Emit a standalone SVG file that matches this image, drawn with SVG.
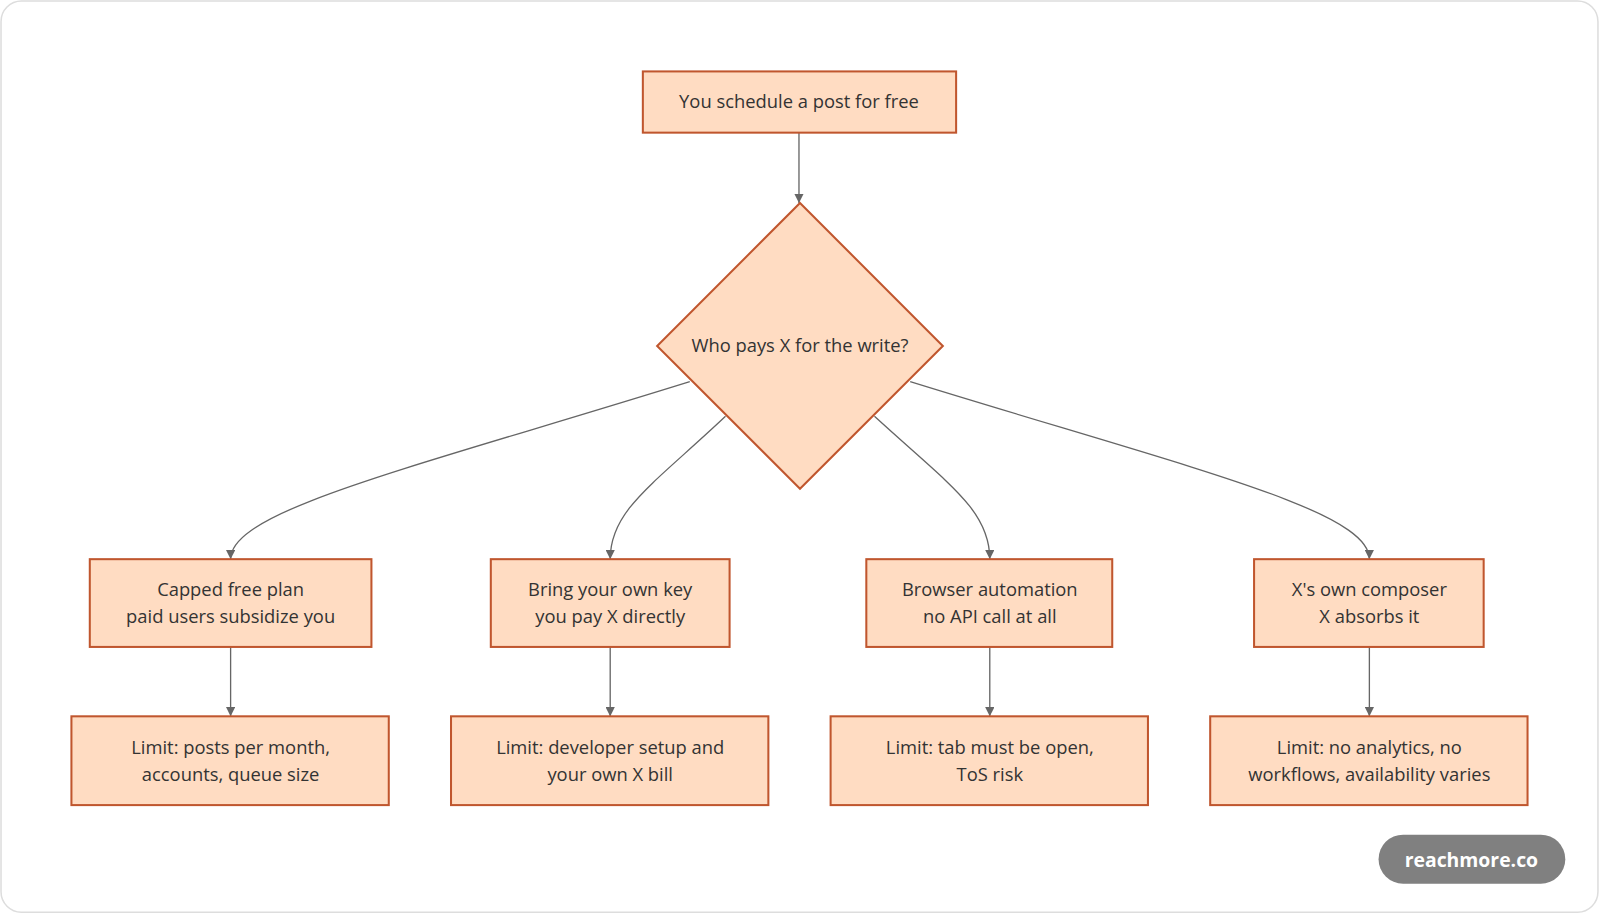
<svg xmlns="http://www.w3.org/2000/svg" width="1600" height="914" viewBox="0 0 1600 914">
<defs>
<marker id="ah" viewBox="0 0 10 10" refX="10" refY="5" markerWidth="7" markerHeight="7" orient="auto"><path d="M0,0 L10,5 L0,10 z" fill="#666"/></marker>
<style>
.n{fill:#ffdcc2;stroke:#c0562e;stroke-width:2}
.t{font-family:"Open Sans","Noto Sans",sans-serif;font-size:18px;fill:#333;text-anchor:middle}
.c{fill:none;stroke:#666;stroke-width:1.3;marker-end:url(#ah)}
</style>
</defs>
<rect width="1600" height="914" fill="#fff"/>
<g transform="scale(1.0204)">
<rect x="1" y="1" width="1565" height="893" rx="20" fill="#fff" stroke="#ddd" stroke-width="1.5"/>
<g id="connectors">
<path class="c" d="M783,130 L783,199"/>
<path class="c" d="M676,374 C400,460 226,500 226,548"/>
<path class="c" d="M711,408 C640,475 598,500 598,548"/>
<path class="c" d="M857,408 C930,475 970,500 970,548"/>
<path class="c" d="M892,374 C1170,460 1342,500 1342,548"/>
<path class="c" d="M226,634 L226,702"/>
<path class="c" d="M598,634 L598,702"/>
<path class="c" d="M970,634 L970,702"/>
<path class="c" d="M1342,634 L1342,702"/>
</g>
<g id="start"><rect class="n" x="630" y="70" width="307" height="60"/><text class="t" x="783" y="106">You schedule a post for free</text></g>
<g id="decision"><polygon class="n" points="784,199 924,339 784,479 644,339"/><text class="t" x="784" y="345">Who pays X for the write?</text></g>
<g id="a1"><rect class="n" x="88" y="548" width="276" height="86"/><text class="t" x="226" y="584">Capped free plan</text><text class="t" x="226" y="611">paid users subsidize you</text></g>
<g id="a2"><rect class="n" x="481" y="548" width="234" height="86"/><text class="t" x="598" y="584">Bring your own key</text><text class="t" x="598" y="611">you pay X directly</text></g>
<g id="a3"><rect class="n" x="849" y="548" width="241" height="86"/><text class="t" x="970" y="584">Browser automation</text><text class="t" x="970" y="611">no API call at all</text></g>
<g id="a4"><rect class="n" x="1229" y="548" width="225" height="86"/><text class="t" x="1342" y="584">X's own composer</text><text class="t" x="1342" y="611">X absorbs it</text></g>
<g id="b1"><rect class="n" x="70" y="702" width="311" height="87"/><text class="t" x="226" y="739">Limit: posts per month,</text><text class="t" x="226" y="765">accounts, queue size</text></g>
<g id="b2"><rect class="n" x="442" y="702" width="311" height="87"/><text class="t" x="598" y="739">Limit: developer setup and</text><text class="t" x="598" y="765">your own X bill</text></g>
<g id="b3"><rect class="n" x="814" y="702" width="311" height="87"/><text class="t" x="970" y="739">Limit: tab must be open,</text><text class="t" x="970" y="765">ToS risk</text></g>
<g id="b4"><rect class="n" x="1186" y="702" width="311" height="87"/><text class="t" x="1342" y="739">Limit: no analytics, no</text><text class="t" x="1342" y="765">workflows, availability varies</text></g>
<g id="badge"><rect x="1351" y="818" width="183" height="48" rx="24" fill="#808080"/><text x="1442" y="850" font-family="'Open Sans',sans-serif" font-size="19" font-weight="bold" fill="#fff" text-anchor="middle">reachmore.co</text></g>
</g>
</svg>
